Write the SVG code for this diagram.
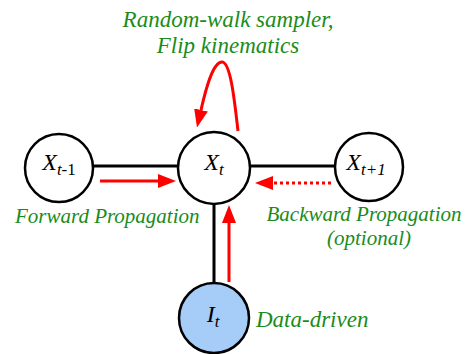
<svg xmlns="http://www.w3.org/2000/svg" width="468" height="354" viewBox="0 0 468 354">
<style>
.node{fill:#ffffff;stroke:#000000;stroke-width:2.5}
.obs{fill:#a6cdf7;stroke:#000000;stroke-width:2.5}
.edge{stroke:#000000;stroke-width:3;fill:none}
.arr{stroke:#ff0000;stroke-width:3;fill:none}
.dot{stroke-dasharray:3 3}
.lbl{font-size:24px;fill:#000000}
.it{font-style:italic}
.sub{font-size:17px}
.note{font-style:italic;fill:#1a8c1a}
</style>
<defs>
<marker id="head" markerUnits="userSpaceOnUse" markerWidth="18" markerHeight="14" refX="0" refY="7" orient="auto" viewBox="0 0 18 14">
<path d="M0,0 L18,7 L0,14 z" fill="#ff0000"/>
</marker>
</defs>
<g id="connectors">
<line class="edge" x1="92" y1="166" x2="179" y2="166"/>
<line class="edge" x1="250" y1="166" x2="336" y2="166"/>
<line class="edge" x1="214" y1="203" x2="214" y2="284"/>
<line class="arr" x1="100" y1="181" x2="158" y2="181" marker-end="url(#head)"/>
<line class="arr dot" x1="331" y1="183" x2="273" y2="183" marker-end="url(#head)"/>
<line class="arr" x1="229" y1="282" x2="229" y2="223" marker-end="url(#head)"/>
<path class="arr" d="M238,131 C234,95 230,62 222,62 C213,62 206,88 201,110" marker-end="url(#head)"/>
</g>
<g font-family="Liberation Serif, Tinos, Times New Roman, DejaVu Serif, serif">
<g id="node-xtm1">
<circle class="node" cx="59" cy="168" r="34"/>
<text class="lbl" x="59" y="170" text-anchor="middle"><tspan class="it">X</tspan><tspan class="sub it" dy="5">t</tspan><tspan class="sub">-1</tspan></text>
</g>
<g id="node-xt">
<circle class="node" cx="214" cy="168" r="36"/>
<text class="lbl" x="214" y="170" text-anchor="middle"><tspan class="it">X</tspan><tspan class="sub it" dy="5">t</tspan></text>
</g>
<g id="node-xtp1">
<circle class="node" cx="369" cy="167" r="34"/>
<text class="lbl it" x="366" y="170" text-anchor="middle"><tspan>X</tspan><tspan class="sub" dy="5">t+1</tspan></text>
</g>
<g id="node-it">
<circle class="obs" cx="214" cy="318" r="35"/>
<text class="lbl it" x="213" y="322" text-anchor="middle"><tspan>I</tspan><tspan class="sub" dy="5">t</tspan></text>
</g>
<g id="labels">
<text class="note" x="228" y="27" font-size="23" text-anchor="middle">Random-walk sampler,</text>
<text class="note" x="228" y="53" font-size="23" text-anchor="middle">Flip kinematics</text>
<text class="note" x="15" y="223" font-size="21">Forward Propagation</text>
<text class="note" x="364" y="221" font-size="21" text-anchor="middle">Backward Propagation</text>
<text class="note" x="369" y="245" font-size="21" text-anchor="middle">(optional)</text>
<text class="note" x="256" y="327" font-size="23">Data-driven</text>
</g>
</g>
</svg>
